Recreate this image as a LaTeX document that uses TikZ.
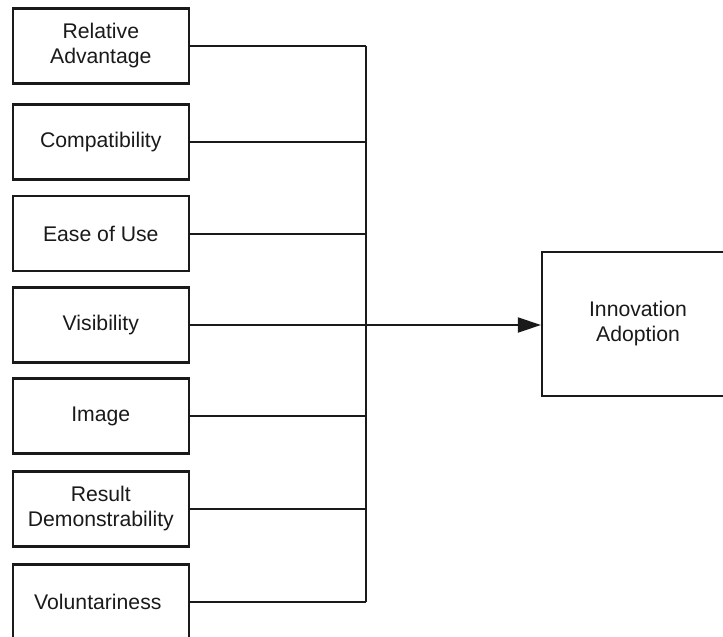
\documentclass[tikz,border=0pt]{standalone}
\usepackage{fontspec}
\setmainfont{Liberation Sans}
\usepackage{xcolor}
\usetikzlibrary{arrows.meta, positioning}
\definecolor{ink}{HTML}{1A1A1A}

\tikzset{
  factor/.style={draw=ink, line width=2.2pt, fill=white, inner sep=0pt,
    minimum width=176pt, minimum height=75pt, align=center,
    font=\fontsize{21.2}{25}\selectfont, text=ink},
  outcome/.style={factor, minimum width=192pt, minimum height=144pt},
  conn/.style={draw=ink, line width=2pt},
}

\begin{document}
\begin{tikzpicture}[x=1pt, y=-1pt]

  %% Page frame
  \fill[white] (0,0) rectangle (723,637);
  \useasboundingbox (0,0) rectangle (723,637);
  \clip (0,0) rectangle (723,637);

  %% Adoption factors
  \foreach \i/\y/\txt in {
    1/46/{Relative\\Advantage},
    2/142/{Compatibility},
    3/233.5/{Ease of Use},
    4/325/{Visibility},
    5/416/{Image},
    6/509/{Result\\Demonstrability},
    7/602/{Voluntariness}
  }{
    \node[factor] (f\i) at (100.8,\y) {\txt};
  }

  %% Outcome
  \node[outcome] (adopt) at (638,324) {Innovation\\Adoption};

  %% Collector bus
  \coordinate (bus) at (365.5,0);
  \foreach \i in {1,...,7}{
    \draw[conn] (f\i.east) -- (f\i.east -| bus);
  }
  \draw[conn] (f1.east -| bus) -- (f7.east -| bus);
  \draw[conn, -{Triangle[length=23pt, width=15pt]}]
    (f4.east -| bus) -- (f4.east -| adopt.west);

\end{tikzpicture}
\end{document}
